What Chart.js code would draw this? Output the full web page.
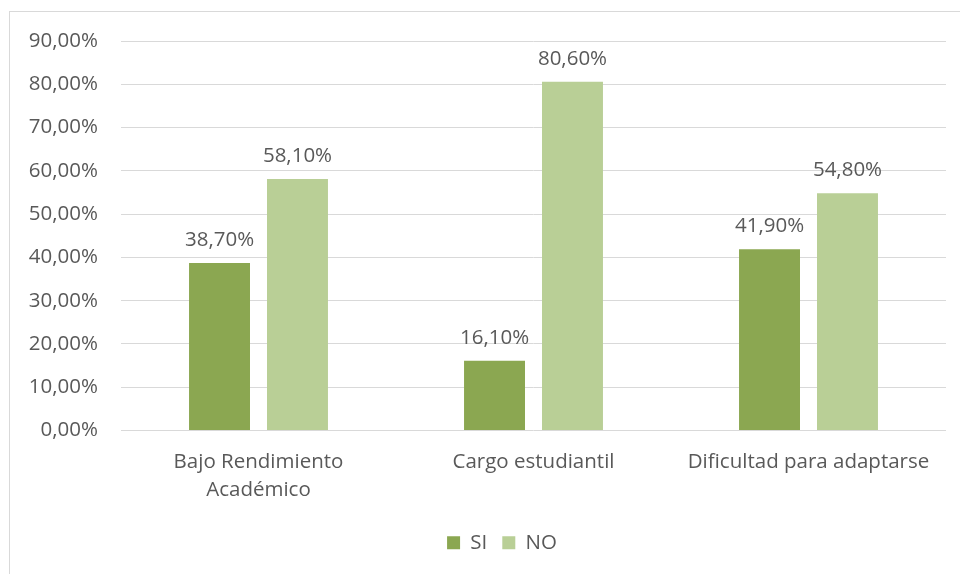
<!DOCTYPE html>
<html>
<head>
<meta charset="utf-8">
<script src="https://cdn.jsdelivr.net/npm/chart.js@4"></script>
<style>
    html, body { margin: 0; padding: 0; background: #fff; overflow: hidden; }
    #wrap { position: relative; width: 960px; height: 574px; overflow: hidden; }
    #frame { position: absolute; left: 9px; top: 11px; width: 1000px; height: 700px; border: 1px solid #d9d9d9; box-sizing: border-box; }
    canvas { position: absolute; left: 0; top: 0; }
</style>
</head>
<body>
<div id="wrap">
    <div id="frame"></div>
    <canvas id="chart" width="995" height="574"></canvas>
</div>
<script>
const categories = [["Bajo Rendimiento", "Académico"], "Cargo estudiantil", "Dificultad para adaptarse"];
const siValues = [38.7, 16.1, 41.9];
const noValues = [58.1, 80.6, 54.8];
const yTicks = [0, 10, 20, 30, 40, 50, 60, 70, 80, 90];

const textColor = "#595959";
const fontFamily = "'Open Sans', sans-serif";
const fontSize = 20.5;

function pct(v) {
    return v.toFixed(2).replace(".", ",") + "%";
}

// value labels above each bar
const barLabels = {
    id: "barLabels",
    afterDatasetsDraw(chart) {
        const ctx = chart.ctx;
        ctx.save();
        ctx.fillStyle = textColor;
        ctx.font = fontSize + "px " + fontFamily;
        ctx.textAlign = "center";
        ctx.textBaseline = "alphabetic";
        chart.data.datasets.forEach((ds, i) => {
            chart.getDatasetMeta(i).data.forEach((bar, j) => {
                ctx.fillText(pct(ds.data[j]), bar.x, bar.y - 17);
            });
        });
        ctx.restore();
    }
};

const ctx = document.getElementById("chart").getContext("2d");
new Chart(ctx, {
    type: "bar",
    data: {
        labels: categories,
        datasets: [
            { label: "SI", data: siValues, backgroundColor: "#8ba751" },
            { label: "NO", data: noValues, backgroundColor: "#b9cf96" }
        ]
    },
    options: {
        responsive: false,
        animation: false,
        devicePixelRatio: 1,
        categoryPercentage: 0.567,
        barPercentage: 0.782,
        layout: { padding: { left: 9, right: 0, top: 41, bottom: 11 } },
        scales: {
            y: {
                min: 0,
                max: 90,
                afterBuildTicks: s => { s.ticks = yTicks.map(v => ({ value: v })); },
                afterFit: s => { s.width = 112; },
                border: { display: false },
                grid: { color: "#d9d9d9", lineWidth: 1, drawTicks: false },
                ticks: {
                    padding: 23,
                    color: textColor,
                    font: { family: fontFamily, size: fontSize },
                    callback: v => pct(v)
                }
            },
            // empty right-hand spacer so the plot ends where the reference does
            spacer: {
                position: "right",
                min: 0,
                max: 90,
                afterFit: s => { s.width = 49; },
                border: { display: false },
                grid: { display: false, drawTicks: false },
                ticks: { display: false }
            },
            x: {
                afterFit: s => { s.height = 87; },
                border: { display: false },
                grid: { display: false, drawTicks: false },
                ticks: {
                    padding: 17,
                    color: textColor,
                    font: { family: fontFamily, size: fontSize, lineHeight: 1.4 }
                }
            }
        },
        plugins: {
            tooltip: { enabled: false },
            legend: {
                position: "bottom",
                labels: {
                    boxWidth: 13,
                    boxHeight: 13,
                    padding: 15,
                    color: textColor,
                    font: { family: fontFamily, size: fontSize }
                }
            }
        }
    },
    plugins: [barLabels]
});
</script>
</body>
</html>
